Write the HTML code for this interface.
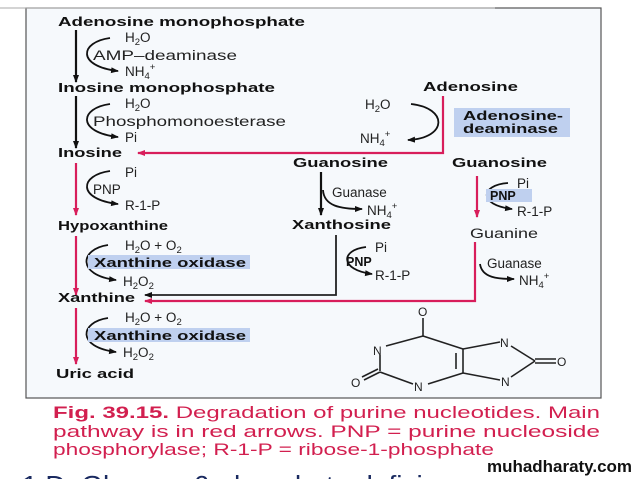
<!DOCTYPE html>
<html><head><meta charset="utf-8"><style>
html,body{margin:0;padding:0;background:#fff;width:638px;height:479px;overflow:hidden;}
svg{display:block;overflow:hidden;}
text{font-family:"Liberation Sans",Arial,sans-serif;}
.b{font-weight:bold;font-size:12.5px;fill:#111;}
.r{font-size:13.5px;fill:#222;}
.s{font-size:9.5px;}
</style></head><body>
<svg width="638" height="479" viewBox="0 0 638 479" xmlns="http://www.w3.org/2000/svg">
<defs>
<marker id="ak" markerWidth="8" markerHeight="8" refX="7" refY="4" orient="auto" markerUnits="userSpaceOnUse"><path d="M0,1 L8,4 L0,7 z" fill="#111"/></marker>
<marker id="ar" markerWidth="8" markerHeight="8" refX="7" refY="4" orient="auto" markerUnits="userSpaceOnUse"><path d="M0,1 L8,4 L0,7 z" fill="#d81e5b"/></marker>
</defs>
<rect x="26" y="8" width="575" height="390" fill="#f6f9fc" stroke="#555" stroke-width="1.2"/>
<line x1="0" y1="8" x2="495" y2="8" stroke="#aaa" stroke-width="1"/>

<text x="58" y="26" class="b" textLength="247" lengthAdjust="spacingAndGlyphs">Adenosine monophosphate</text>
<line x1="76" y1="30" x2="76" y2="82" stroke="#111" stroke-width="2.2" marker-end="url(#ak)"/>
<path d="M110,38 C80,42 76,66 118,71" fill="none" stroke="#111" stroke-width="1.8" marker-end="url(#ak)"/>
<text x="125" y="42" class="r">H<tspan class="s" dy="3">2</tspan><tspan dy="-3">O</tspan></text>
<text x="93" y="60" class="r" textLength="144" lengthAdjust="spacingAndGlyphs">AMP–deaminase</text>
<text x="125" y="76" class="r">NH<tspan class="s" dy="3">4</tspan><tspan class="s" dy="-9">+</tspan></text>

<text x="58" y="92" class="b" textLength="217" lengthAdjust="spacingAndGlyphs">Inosine monophosphate</text>
<line x1="76" y1="96" x2="76" y2="148" stroke="#111" stroke-width="2.2" marker-end="url(#ak)"/>
<path d="M110,104 C80,108 76,132 118,137" fill="none" stroke="#111" stroke-width="1.8" marker-end="url(#ak)"/>
<text x="125" y="108" class="r">H<tspan class="s" dy="3">2</tspan><tspan dy="-3">O</tspan></text>
<text x="93" y="126" class="r" textLength="193" lengthAdjust="spacingAndGlyphs">Phosphomonoesterase</text>
<text x="125" y="142" class="r">Pi</text>

<text x="58" y="157" class="b" textLength="64" lengthAdjust="spacingAndGlyphs">Inosine</text>
<text x="423" y="91" class="b" textLength="95" lengthAdjust="spacingAndGlyphs">Adenosine</text>
<polyline points="443,96 443,153 138,153" fill="none" stroke="#d81e5b" stroke-width="2.2" marker-end="url(#ar)"/>
<path d="M411,104 C448,108 448,138 408,140" fill="none" stroke="#111" stroke-width="1.8" marker-end="url(#ak)"/>
<text x="365" y="109" class="r">H<tspan class="s" dy="3">2</tspan><tspan dy="-3">O</tspan></text>
<text x="360" y="143" class="r">NH<tspan class="s" dy="3">4</tspan><tspan class="s" dy="-9">+</tspan></text>
<rect x="454" y="108" width="116" height="29" fill="#bfd0ef"/>
<text x="463" y="120" class="b" textLength="100" lengthAdjust="spacingAndGlyphs">Adenosine-</text>
<text x="463" y="133" class="b" textLength="95" lengthAdjust="spacingAndGlyphs">deaminase</text>

<line x1="76" y1="163" x2="76" y2="215" stroke="#d81e5b" stroke-width="2.2" marker-end="url(#ar)"/>
<path d="M110,171 C80,175 76,199 118,204" fill="none" stroke="#111" stroke-width="1.8" marker-end="url(#ak)"/>
<text x="125" y="177" class="r">Pi</text>
<text x="93" y="194" class="r">PNP</text>
<text x="125" y="210" class="r">R-1-P</text>
<text x="58" y="230" class="b" textLength="110" lengthAdjust="spacingAndGlyphs">Hypoxanthine</text>

<text x="293" y="167" class="b" textLength="95" lengthAdjust="spacingAndGlyphs">Guanosine</text>
<line x1="321" y1="172" x2="321" y2="215" stroke="#111" stroke-width="2.2" marker-end="url(#ak)"/>
<path d="M323,190 C324,206 340,209 362,209" fill="none" stroke="#111" stroke-width="1.8" marker-end="url(#ak)"/>
<text x="332" y="197" class="r">Guanase</text>
<text x="367" y="215" class="r">NH<tspan class="s" dy="3">4</tspan><tspan class="s" dy="-9">+</tspan></text>
<text x="292" y="229" class="b" textLength="99" lengthAdjust="spacingAndGlyphs">Xanthosine</text>
<polyline points="336,235 336,295 145,295" fill="none" stroke="#222" stroke-width="1.8" marker-end="url(#ak)"/>
<path d="M366,247 C340,250 340,270 372,274" fill="none" stroke="#111" stroke-width="1.8" marker-end="url(#ak)"/>
<text x="375" y="252" class="r">Pi</text>
<text x="346" y="266" class="b">PNP</text>
<text x="375" y="280" class="r">R-1-P</text>

<text x="452" y="167" class="b" textLength="95" lengthAdjust="spacingAndGlyphs">Guanosine</text>
<line x1="477" y1="176" x2="477" y2="217" stroke="#d81e5b" stroke-width="2.2" marker-end="url(#ar)"/>
<path d="M508,183 C480,185 478,205 512,209" fill="none" stroke="#111" stroke-width="1.8" marker-end="url(#ak)"/>
<text x="517" y="188" class="r">Pi</text>
<rect x="486" y="189" width="46" height="13" fill="#bfd0ef"/>
<text x="490" y="200" class="b">PNP</text>
<text x="517" y="216" class="r">R-1-P</text>
<text x="470" y="238" class="r" textLength="68" lengthAdjust="spacingAndGlyphs">Guanine</text>
<polyline points="475,242 475,301 145,301" fill="none" stroke="#d81e5b" stroke-width="2.2" marker-end="url(#ar)"/>
<path d="M480,264 C482,278 498,279 514,279" fill="none" stroke="#111" stroke-width="1.8" marker-end="url(#ak)"/>
<text x="487" y="268" class="r">Guanase</text>
<text x="519" y="285" class="r">NH<tspan class="s" dy="3">4</tspan><tspan class="s" dy="-9">+</tspan></text>

<line x1="76" y1="236" x2="76" y2="295" stroke="#d81e5b" stroke-width="2.2" marker-end="url(#ar)"/>
<path d="M108,245 C80,249 76,275 116,280" fill="none" stroke="#111" stroke-width="1.8" marker-end="url(#ak)"/>
<text x="125" y="250" class="r">H<tspan class="s" dy="3">2</tspan><tspan dy="-3">O + O</tspan><tspan class="s" dy="3">2</tspan></text>
<rect x="88" y="255" width="162" height="14" fill="#bfd0ef"/>
<text x="94" y="267" class="b" textLength="152" lengthAdjust="spacingAndGlyphs">Xanthine oxidase</text>
<text x="123" y="286" class="r">H<tspan class="s" dy="3">2</tspan><tspan dy="-3">O</tspan><tspan class="s" dy="3">2</tspan></text>
<text x="58" y="302" class="b" textLength="77" lengthAdjust="spacingAndGlyphs">Xanthine</text>

<line x1="76" y1="308" x2="76" y2="364" stroke="#d81e5b" stroke-width="2.2" marker-end="url(#ar)"/>
<path d="M108,318 C80,322 76,347 116,352" fill="none" stroke="#111" stroke-width="1.8" marker-end="url(#ak)"/>
<text x="125" y="322" class="r">H<tspan class="s" dy="3">2</tspan><tspan dy="-3">O + O</tspan><tspan class="s" dy="3">2</tspan></text>
<rect x="88" y="328" width="162" height="14" fill="#bfd0ef"/>
<text x="94" y="340" class="b" textLength="152" lengthAdjust="spacingAndGlyphs">Xanthine oxidase</text>
<text x="123" y="357" class="r">H<tspan class="s" dy="3">2</tspan><tspan dy="-3">O</tspan><tspan class="s" dy="3">2</tspan></text>
<text x="56" y="378" class="b" textLength="78" lengthAdjust="spacingAndGlyphs">Uric acid</text>

<g stroke="#222" stroke-width="1.6" fill="none">
<line x1="423" y1="318" x2="423" y2="336"/>
<line x1="423" y1="336" x2="386" y2="346"/>
<line x1="380" y1="355" x2="380" y2="371"/>
<line x1="380" y1="372" x2="413" y2="384"/>
<line x1="428" y1="384" x2="463" y2="373"/>
<line x1="463" y1="373" x2="463" y2="349"/>
<line x1="456" y1="369" x2="456" y2="353"/>
<line x1="463" y1="349" x2="423" y2="336"/>
<line x1="463" y1="349" x2="500" y2="342"/>
<line x1="463" y1="373" x2="500" y2="380"/>
<line x1="511" y1="346" x2="535" y2="361"/>
<line x1="511" y1="377" x2="535" y2="361"/>
<line x1="535" y1="359" x2="556" y2="359"/>
<line x1="535" y1="363" x2="556" y2="363"/>
<line x1="380" y1="372" x2="364" y2="380"/>
<line x1="378" y1="369" x2="362" y2="377"/>
</g>
<g font-size="12" fill="#222">
<text x="418" y="316">O</text>
<text x="373" y="355">N</text>
<text x="414" y="391">N</text>
<text x="500" y="347">N</text>
<text x="501" y="386">N</text>
<text x="557" y="366">O</text>
<text x="351" y="387">O</text>
</g>

<g font-size="16.5px" fill="#d21f4f">
<text x="53" y="418" textLength="547" lengthAdjust="spacingAndGlyphs"><tspan font-weight="bold">Fig. 39.15.</tspan> Degradation of purine nucleotides.  Main</text>
<text x="53" y="437" textLength="547" lengthAdjust="spacingAndGlyphs">pathway is in red arrows.  PNP = purine nucleoside</text>
<text x="53" y="455" textLength="441" lengthAdjust="spacingAndGlyphs">phosphorylase; R-1-P = ribose-1-phosphate</text>
</g>
<text x="22" y="494" font-size="26" fill="#1a2a60" textLength="460" lengthAdjust="spacingAndGlyphs">1 D. Glucose-6-phosphate deficiency</text>
<text x="487" y="472" font-size="17" font-weight="bold" fill="#111" textLength="145" lengthAdjust="spacingAndGlyphs">muhadharaty.com</text>
</svg>
</body></html>
